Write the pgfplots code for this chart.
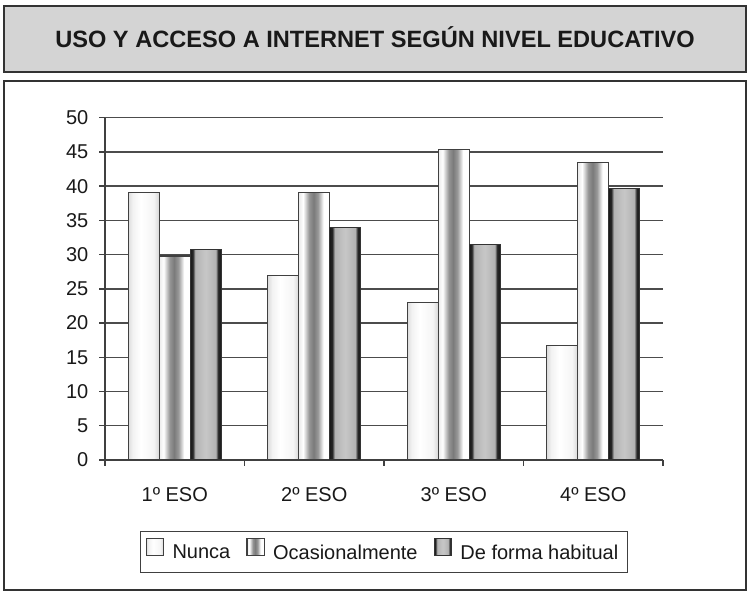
\documentclass[border=0pt]{standalone}
\usepackage{fontspec}
\setmainfont{Liberation Sans}
\usepackage{pgfplots}
\pgfplotsset{compat=1.18}

% bar shadings: 25bp..75bp is mapped onto each bar
\pgfdeclarehorizontalshading{nunca}{100bp}{color(0bp)=(black!14); color(25bp)=(black!14);
  color(32bp)=(black!5); color(45bp)=(white); color(66bp)=(black!4); color(75bp)=(black!16); color(100bp)=(black!16)}
\pgfdeclarehorizontalshading{ocasional}{100bp}{color(0bp)=(black!8); color(25bp)=(black!8);
  color(32bp)=(white); color(42bp)=(black!42); color(49bp)=(black!52); color(56bp)=(black!40);
  color(65bp)=(white); color(75bp)=(white); color(100bp)=(white)}
\pgfdeclarehorizontalshading{habitual}{100bp}{color(0bp)=(black!90); color(25bp)=(black!90);
  color(29bp)=(black!85); color(33bp)=(black!30); color(50bp)=(black!22); color(66bp)=(black!30);
  color(70bp)=(black!85); color(75bp)=(black!90); color(100bp)=(black!90)}

% one style per series; each bar is its own plot so the shading fits each bar
\pgfplotsset{
  bN/.style={ybar, bar width=15.5pt, bar shift=-15.5pt, draw=black!75, line width=0.6pt, shade, shading=nunca},
  bO/.style={ybar, bar width=15.5pt, bar shift=0pt, draw=black!75, line width=0.6pt, shade, shading=ocasional},
  bH/.style={ybar, bar width=15.5pt, bar shift=15.5pt, draw=black!80, line width=0.6pt, shade, shading=habitual},
}

\begin{document}
\begin{tikzpicture}
\useasboundingbox (0,0) rectangle (375pt,296pt);

% title box and chart frame
\draw[black!80, line width=0.9pt, fill=black!17] (2pt,260pt) rectangle (373pt,293pt);
\node[font=\fontsize{11.8}{14}\selectfont\bfseries, text=black!90] at (187.5pt,277.3pt)
  {USO Y ACCESO A INTERNET SEGÚN NIVEL EDUCATIVO};
\draw[black!80, line width=0.9pt, fill=white] (2pt,1pt) rectangle (373pt,255.5pt);

\begin{axis}[
  at={(52.5pt,66pt)}, anchor=south west,
  scale only axis, width=279pt, height=171.15pt,
  xmin=-0.5, xmax=3.5, ymin=0, ymax=50,
  ytick={0,5,...,50},
  xtick={-0.5,0.5,1.5,2.5,3.5},
  x tick label as interval,
  xticklabels={1º ESO,2º ESO,3º ESO,4º ESO},
  axis x line*=bottom, axis y line*=left,
  axis line style={-, draw=black!75, line width=0.7pt},
  tick align=outside, major tick length=2.8pt,
  tick style={draw=black!75, line width=0.7pt},
  ymajorgrids, grid style={black!70, line width=0.7pt},
  /pgf/number format/assume math mode=true,
  ticklabel style={font=\fontsize{10}{12}\selectfont, text=black!90},
  yticklabel style={xshift=-2pt},
  xticklabel style={yshift=-7.5pt},
  legend columns=3,
  legend style={at={(0.5,-0.2074)}, anchor=north, draw=black!75, line width=0.6pt,
    font=\fontsize{10}{12}\selectfont, text=black!90, inner xsep=2.5pt, inner ysep=3pt,
    /tikz/every even column/.append style={column sep=6pt}},
  legend image code/.code={\draw[#1, line width=0.6pt] (0pt,-0.9pt) rectangle (8.6pt,7.7pt);
    \path (10.8pt,0pt);},
]
\addlegendimage{draw=black!75, shade, shading=nunca}
\addlegendentry{Nunca}
\addlegendimage{draw=black!75, shade, shading=ocasional}
\addlegendentry{Ocasionalmente}
\addlegendimage{draw=black!80, shade, shading=habitual}
\addlegendentry{De forma habitual}

% Nunca
\addplot[bN, forget plot] coordinates {(0,39.1)};
\addplot[bN, forget plot] coordinates {(1,26.9)};
\addplot[bN, forget plot] coordinates {(2,23.0)};
\addplot[bN, forget plot] coordinates {(3,16.7)};
% Ocasionalmente
\addplot[bO, forget plot] coordinates {(0,29.8)};
\addplot[bO, forget plot] coordinates {(1,39.1)};
\addplot[bO, forget plot] coordinates {(2,45.4)};
\addplot[bO, forget plot] coordinates {(3,43.5)};
% De forma habitual
\addplot[bH, forget plot] coordinates {(0,30.8)};
\addplot[bH, forget plot] coordinates {(1,34.0)};
\addplot[bH, forget plot] coordinates {(2,31.5)};
\addplot[bH, forget plot] coordinates {(3,39.7)};
\end{axis}
\end{tikzpicture}
\end{document}
